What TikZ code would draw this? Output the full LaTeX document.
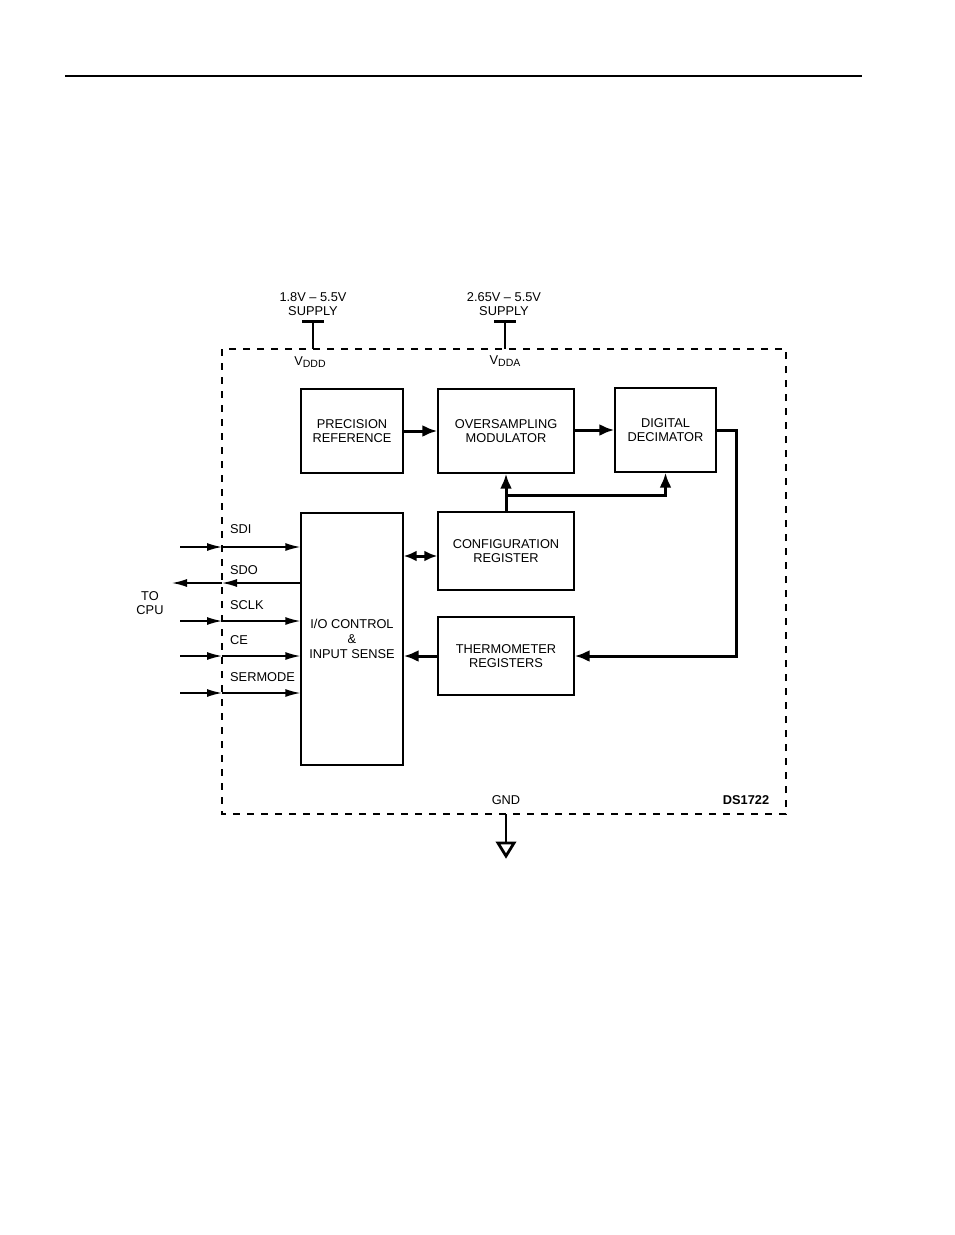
\documentclass[tikz,border=0pt]{standalone}
\usepackage{fontspec}
\setmainfont{Liberation Sans}
\usetikzlibrary{arrows.meta}
\begin{document}
\begin{tikzpicture}[x=1pt,y=-1pt,
  every node/.style={font=\fontsize{12.8}{14.5}\selectfont, inner sep=0pt},
  box/.style={draw, line width=1.4pt, align=center, fill=white},
  lbl/.style={anchor=west},
  thick arr/.style={line width=3pt, -{Latex[length=15pt,width=12pt]}},
  thick dbl/.style={line width=3pt, {Latex[length=13pt,width=11pt]}-{Latex[length=13pt,width=11pt]}},
  sig/.style={line width=1.4pt, -{Latex[length=15pt,width=8pt]}},
  border/.style={line width=1.3pt, dash pattern=on 7pt off 7pt},
  bar/.style={line width=3pt}
]
\useasboundingbox (0,0) rectangle (954,1235);
\fill[white] (0,0) rectangle (954,1235);

% top rule
\coordinate (r1) at (65,76);
\coordinate (r2) at (862,76);
\draw[line width=1.5pt] (r1) -- (r2);

% dashed chip border
\draw[border] (222,349) rectangle (786,814);

% blocks
\node[box, minimum width=102pt, minimum height=84pt] (pr) at (352,431) {PRECISION\\REFERENCE};
\node[box, minimum width=136pt, minimum height=84pt] (osm) at (506,431) {OVERSAMPLING\\MODULATOR};
\node[box, minimum width=101pt, minimum height=84pt] (dd) at (665.5,430) {DIGITAL\\DECIMATOR};
\node[box, minimum width=102pt, minimum height=252pt] (io) at (352,639) {I/O CONTROL\\[0.5pt]\&\\[0.5pt]INPUT SENSE};
\node[box, minimum width=136pt, minimum height=78pt] (cfg) at (506,551) {CONFIGURATION\\REGISTER};
\node[box, minimum width=136pt, minimum height=78pt] (thr) at (506,656) {THERMOMETER\\REGISTERS};

% internal connections
\draw[thick arr] (pr.east) -- (osm.west);
\draw[thick arr] (osm.east |- dd.west) -- (dd.west);
\coordinate (j) at (506,495);
\draw[thick arr] (cfg.north) -- (osm.south);
\draw[thick arr] (j) -| (dd.south);
\draw[thick arr] (dd.east) -- ++(20,0) |- (thr.east);
\draw[thick arr] (thr.west) -- (thr.west -| io.east);
\draw[thick dbl] ([yshift=-5pt]cfg.west -| io.east) -- ([yshift=-5pt]cfg.west);

% left-side signals
\foreach \n/\y/\ly/\t in {sdi/547/529/SDI, sclk/621/605/SCLK, ce/656/640/CE, sm/693/677/SERMODE}{
  \coordinate (\n S) at (180,\y);
  \coordinate (\n B) at (222,\y);
  \draw[sig] (\n S) -- (\n B);
  \draw[sig] (\n B) -- (\n B -| io.west);
  \node[lbl] (\n L) at (230,\ly) {\t};
}
\coordinate (sdoB) at (222,583);
\coordinate (sdoE) at (172,583);
\draw[sig] (sdoB -| io.west) -- (sdoB);
\draw[sig] (sdoB) -- (sdoE);
\node[lbl] (sdoL) at (230,570) {SDO};
\node[align=center] (cpu) at (150,603) {TO\\CPU};

% supplies
\node[align=center] (s1) at (313,304) {1.8V -- 5.5V\\SUPPLY};
\coordinate (s1a) at (302,321);
\coordinate (s1b) at (324,321);
\coordinate (s1c) at (313,321);
\coordinate (s1d) at (313,349);
\draw[bar] (s1a) -- (s1b);
\draw[line width=1.3pt] (s1c) -- (s1d);
\node (vddd) at (310,362) {V\raisebox{-0.35ex}{\fontsize{10.5}{12}\selectfont DDD}};

\node[align=center] (s2) at (504,304) {2.65V -- 5.5V\\SUPPLY};
\coordinate (s2a) at (494,321);
\coordinate (s2b) at (516,321);
\coordinate (s2c) at (505,321);
\coordinate (s2d) at (505,349);
\draw[bar] (s2a) -- (s2b);
\draw[line width=1.3pt] (s2c) -- (s2d);
\node (vdda) at (505,361) {V\raisebox{-0.35ex}{\fontsize{10.5}{12}\selectfont DDA}};

% ground
\node (gnd) at (506,800) {GND};
\coordinate (g1) at (506,814);
\coordinate (g2) at (506,842);
\draw[line width=1.3pt] (g1) -- (g2);
\draw[line width=2.8pt, line join=miter] (498,843) -- (514,843) -- (506,856) -- cycle;

\node[font=\fontsize{12.8}{14.5}\selectfont\bfseries] (ds) at (746,800) {DS1722};
\end{tikzpicture}
\end{document}
